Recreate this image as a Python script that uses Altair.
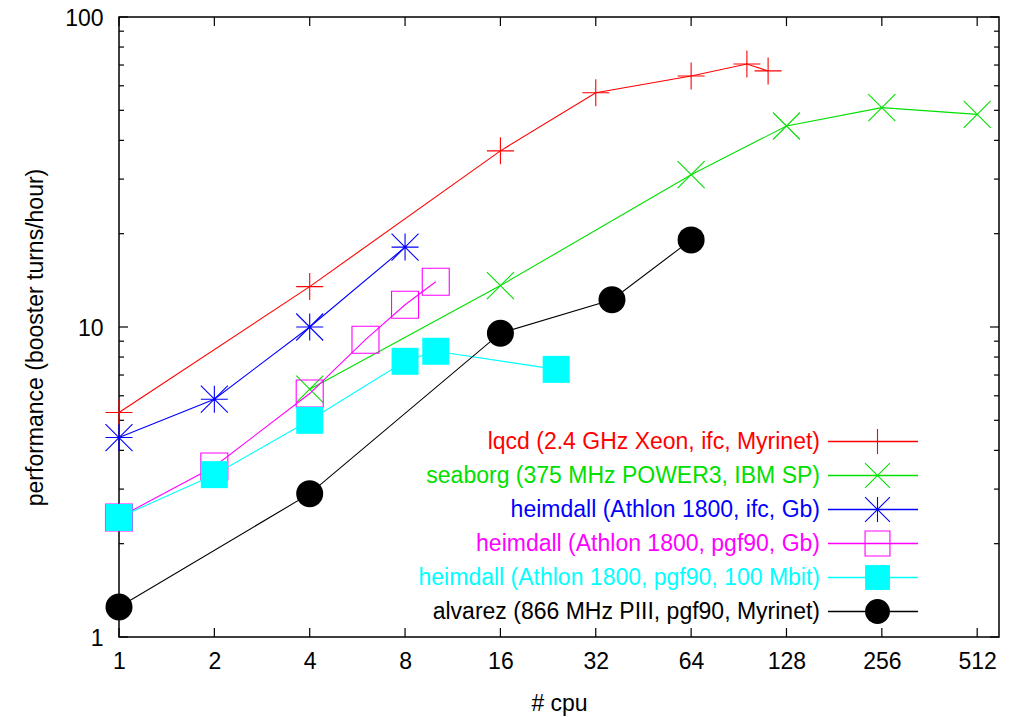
import altair as alt
import pandas as pd

# ---- data ----
labels = [
    "lqcd (2.4 GHz Xeon, ifc, Myrinet)",
    "seaborg (375 MHz POWER3, IBM SP)",
    "heimdall (Athlon 1800, ifc, Gb)",
    "heimdall (Athlon 1800, pgf90, Gb)",
    "heimdall (Athlon 1800, pgf90, 100 Mbit)",
    "alvarez (866 MHz PIII, pgf90, Myrinet)",
]
lqcd_cpu = [1, 4, 16, 32, 64, 96, 112]
lqcd_perf = [5.3, 13.5, 37, 57, 64.5, 70.5, 67]
seaborg_cpu = [4, 16, 64, 128, 256, 512]
seaborg_perf = [6.3, 13.6, 31, 44.5, 51, 48.5]
heim_ifc_cpu = [1, 2, 4, 8]
heim_ifc_perf = [4.4, 5.85, 10.0, 18.1]
heim_gb_cpu = [1, 2, 4, 6, 8, 10]
heim_gb_perf = [2.43, 3.55, 6.1, 9.1, 11.8, 14.0]
heim_100_cpu = [1, 2, 4, 8, 10, 24]
heim_100_perf = [2.43, 3.34, 5.0, 7.75, 8.35, 7.3]
alvarez_cpu = [1, 4, 16, 36, 64]
alvarez_perf = [1.25, 2.9, 9.55, 12.25, 19.1]

x_ticks = [1, 2, 4, 8, 16, 32, 64, 128, 256, 512]
y_major = [1, 10, 100]
y_minor = [2, 3, 4, 5, 6, 7, 8, 9, 20, 30, 40, 50, 60, 70, 80, 90]

# ---- styles ----
colors = ["#ff0000", "#00e000", "#0000ff", "#ff00ff", "#00ffff", "#000000"]
PLUS = "M-1,0H1M0,-1V1"
CROSS = "M-1,-1L1,1M-1,1L1,-1"
STAR = "M-1,0H1M0,-1V1M-1,-1L1,1M-1,1L1,-1"
shapes = [PLUS, CROSS, STAR, "square", "square", "circle"]
filled = [False, False, False, False, True, True]
FONT = "Liberation Sans"
FS = 23
W, H = 880, 620
MSIZE = 729

series = [
    (lqcd_cpu, lqcd_perf),
    (seaborg_cpu, seaborg_perf),
    (heim_ifc_cpu, heim_ifc_perf),
    (heim_gb_cpu, heim_gb_perf),
    (heim_100_cpu, heim_100_perf),
    (alvarez_cpu, alvarez_perf),
]

xscale = alt.Scale(type="log", base=2, domain=[1, 600], nice=False)
yscale = alt.Scale(type="log", domain=[1, 100], nice=False)

xaxis = alt.Axis(values=x_ticks, title="# cpu", ticks=False, tickSize=0,
                 domain=False, grid=False, labelFont=FONT, labelFontSize=FS,
                 labelColor="black", labelPadding=13, titleFont=FONT,
                 titleFontSize=FS, titleFontWeight="normal", titleColor="black",
                 titlePadding=19, labelFlush=False, labelOverlap=False, format="d")
yaxis = alt.Axis(values=y_major, title="performance (booster turns/hour)",
                 ticks=False, tickSize=0, domain=False, grid=False,
                 labelFont=FONT, labelFontSize=FS, labelColor="black",
                 labelPadding=16, labelOffset=1, titleFont=FONT, titleFontSize=FS,
                 titleFontWeight="normal", titleColor="black", titleY=H / 2 + 10,
                 titlePadding=17, labelFlush=False, labelOverlap=False, format="d")


def X(field):
    return alt.X(field, scale=xscale, axis=xaxis)


def Y(field):
    return alt.Y(field, scale=yscale, axis=yaxis)


layers = []

# inward ticks
xt = pd.DataFrame({"t": x_ticks})
ymj = pd.DataFrame({"t": y_major})
ymn = pd.DataFrame({"t": y_minor})
tick_style = dict(color="black", strokeWidth=1.2)
layers.append(alt.Chart(xt).mark_rule(**tick_style).encode(
    x=X("t:Q"), y=alt.value(H), y2=alt.value(H - 9)))
layers.append(alt.Chart(xt).mark_rule(**tick_style).encode(
    x=X("t:Q"), y=alt.value(0), y2=alt.value(9)))
for d, L in ((ymj, 9), (ymn, 5)):
    layers.append(alt.Chart(d).mark_rule(**tick_style).encode(
        y=Y("t:Q"), x=alt.value(0), x2=alt.value(L)))
    layers.append(alt.Chart(d).mark_rule(**tick_style).encode(
        y=Y("t:Q"), x=alt.value(W), x2=alt.value(W - L)))

# series
for i, (cx, cy) in enumerate(series):
    df = pd.DataFrame({"cpu": cx, "perf": cy})
    enc = dict(x=X("cpu:Q"), y=Y("perf:Q"))
    layers.append(alt.Chart(df).mark_line(color=colors[i], strokeWidth=1.1).encode(**enc))
    if filled[i]:
        pm = alt.Chart(df).mark_point(shape=shapes[i], size=MSIZE, filled=True,
                                      fill=colors[i], color=colors[i], opacity=1,
                                      strokeWidth=1)
    else:
        pm = alt.Chart(df).mark_point(shape=shapes[i], size=MSIZE, filled=False,
                                      color=colors[i], opacity=1, strokeWidth=1.1)
    layers.append(pm.encode(**enc))

# legend (key box inside plot, bottom right) - plot-relative pixel layout
TEXT_RIGHT = 701
LINE_X1, LINE_X2 = 709, 799
SYM_X = 758.5
ROW0, ROW_STEP = 424.5, 34
leg = pd.DataFrame({"label": labels, "color": colors, "row": list(range(len(labels)))})
leg["ty"] = ROW0 + leg["row"] * ROW_STEP
leg["tx"] = TEXT_RIGHT
leg["lx1"] = LINE_X1
leg["lx2"] = LINE_X2
leg["sx"] = SYM_X
layers.append(alt.Chart(leg).mark_text(align="right", baseline="middle", font=FONT,
                                       fontSize=FS).encode(
    x=alt.X("tx:Q", scale=None, axis=None), y=alt.Y("ty:Q", scale=None, axis=None),
    text="label:N", color=alt.Color("color:N", scale=None, legend=None)))
for i in range(len(labels)):
    row = leg.iloc[[i]]
    layers.append(alt.Chart(row).mark_rule(strokeWidth=1.3, color=colors[i],
                                           stroke=colors[i], opacity=1).encode(
        x=alt.X("lx1:Q", scale=None, axis=None), x2="lx2:Q",
        y=alt.Y("ty:Q", scale=None, axis=None)))
    if filled[i]:
        m = alt.Chart(row).mark_point(shape=shapes[i], size=MSIZE * 0.85, filled=True,
                                      fill=colors[i], color=colors[i], opacity=1)
    else:
        m = alt.Chart(row).mark_point(shape=shapes[i], size=MSIZE * 0.85, filled=False,
                                      color=colors[i], opacity=1, strokeWidth=1.1)
    layers.append(m.encode(x=alt.X("sx:Q", scale=None, axis=None),
                           y=alt.Y("ty:Q", scale=None, axis=None)))

chart = alt.layer(*layers).properties(
    width=W, height=H,
    autosize=alt.AutoSizeParams(type="none"),
    padding={"left": 111, "top": 9, "right": 10, "bottom": 80},
).configure(
    background="white",
    view=alt.ViewConfig(stroke="black", strokeWidth=1.5),
)

chart.save("out.html", embed_options={"renderer": "svg", "actions": False})
